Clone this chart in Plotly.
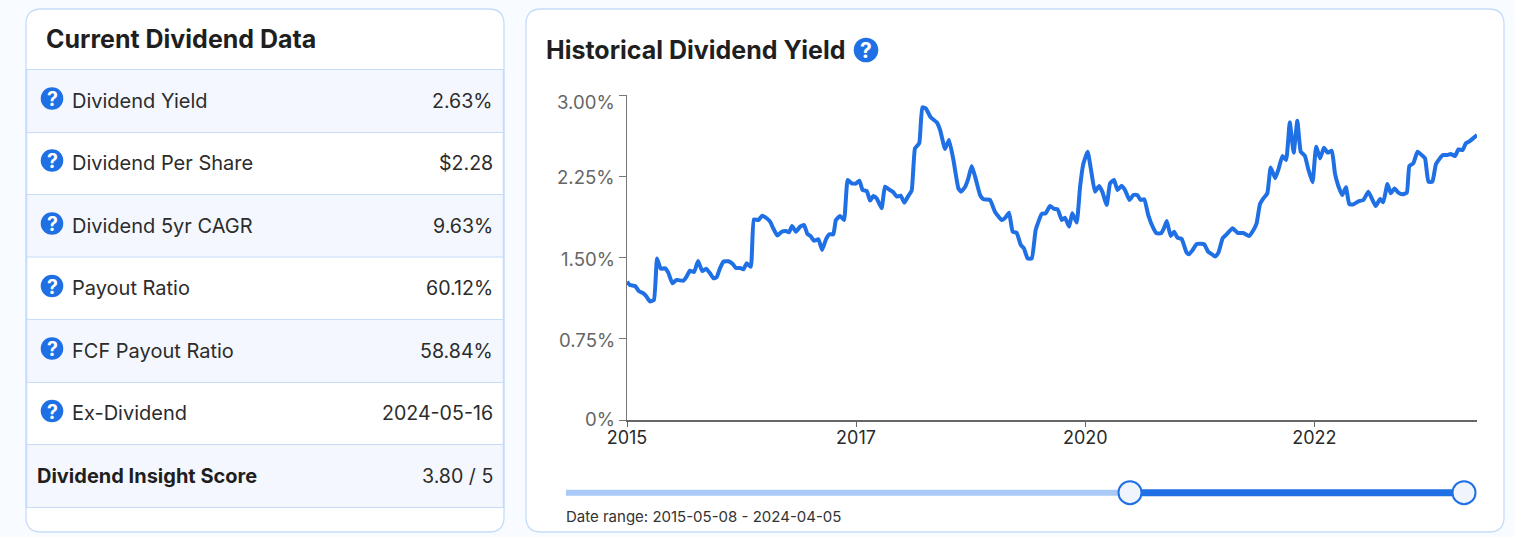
import pandas as pd
import plotly.graph_objects as go

W, H = 1515, 537
START = "2015-05-08"
END = "2024-04-05"

days_since_start = [0,11,31,46,63,75,88,103,115,129,146,158,174,190,216,228,241,257,272,288,303,318,331,343,356,369,388,405,417,433,446,458,474,486,503,518,535,548,560,576,592,609,620,632,647,663,678,691,703,716,733,747,762,775,790,800,816,831,845,860,876,890,902,918,
931,943,956,975,988,1007,1020,1033,1048,1062,1077,1090,1103,1119,1131,1144,1163,1186,1199,1218,1233,1250,1269,1279,1294,1307,1320,1333,1352,1365,1390,1409,1435,1450,1463,1477,1492,1508,1520,1534,1550,1565,1588,1603,1620,1636,1649,1665,1677,1693,1705,1722,1735,1748,1764,1777,1792,1808,1820,1837,1850,1865,1878,1894,1907,1924,1939,1954,1967,1981,1996,2016,2028,2045,2056,2067,2082,2095,2108,2124,2143,
2152,2166,2182,2210,2225,2239,2252,2265,2281,2296,2319,2339,2360,2382,2399,2411,2424,2437,2452,2465,2482,2494,2510,2524,2538,2553,2567,2580,2596,2609,2625,2639,2654,2669,2683,2699,2711,2724,2739,2753,2766,2782,2801,2820,2839,2852,2867,2884,2896,2912,2925,2939,2954,2969,2986,2996,3011,3027,3043,3056,3069,3084,3098,3124,3141,3154,3171,3184,3200,3212,3226,3255]

yield_pct = [1.277,1.246,1.237,1.188,1.169,1.138,1.095,1.108,1.492,1.397,1.400,1.360,1.262,1.292,1.286,1.323,1.378,1.366,1.468,1.375,1.397,1.354,1.308,1.317,1.400,1.461,1.465,1.440,1.403,1.403,1.391,1.446,1.415,1.852,1.846,1.886,1.862,1.831,1.769,1.702,1.738,1.745,1.732,1.791,1.738,1.785,1.800,1.717,1.698,1.655,1.668,1.569,1.668,1.714,1.714,1.846,1.883,1.846,2.215,2.185,2.182,2.209,2.123,2.114,
2.025,2.068,2.046,1.954,2.154,2.123,2.102,2.062,2.071,2.006,2.068,2.117,2.508,2.554,2.886,2.877,2.794,2.748,2.677,2.502,2.585,2.400,2.138,2.108,2.148,2.231,2.345,2.246,2.077,2.037,2.031,1.923,1.846,1.871,1.914,1.738,1.729,1.615,1.585,1.492,1.492,1.754,1.902,1.908,1.975,1.948,1.945,1.846,1.868,1.785,1.908,1.822,2.154,2.369,2.477,2.308,2.108,2.160,2.108,1.985,2.185,2.215,2.123,2.163,2.123,2.031,2.077,2.077,2.031,2.037,1.892,1.769,1.723,1.723,1.769,1.837,1.698,1.738,1.683,1.671,1.545,
1.529,1.569,1.625,1.622,1.554,1.532,1.508,1.545,1.677,1.714,1.769,1.726,1.726,1.698,1.754,1.815,1.994,2.046,2.092,2.332,2.231,2.308,2.437,2.400,2.748,2.468,2.763,2.477,2.437,2.314,2.194,2.523,2.415,2.514,2.468,2.486,2.277,2.160,2.077,2.148,1.991,1.991,2.018,2.031,2.108,2.046,1.975,2.040,2.009,2.178,2.092,2.138,2.098,2.083,2.098,2.345,2.369,2.477,2.446,2.415,2.200,2.200,2.363,2.446,2.446,2.455,2.437,2.498,2.492,2.554,2.572,2.630]

x_tick_dates = ["2015-05-08", "2017-10-01", "2020-02-26", "2022-07-22"]
x_tick_labels = ["2015", "2017", "2020", "2022"]
y_tick_values = [0, 0.75, 1.5, 2.25, 3]
y_tick_labels = ["0%", "0.75%", "1.50%", "2.25%", "3.00%"]

row_labels = ["Dividend Yield", "Dividend Per Share", "Dividend 5yr CAGR", "Payout Ratio",
              "FCF Payout Ratio", "Ex-Dividend", "Dividend Insight Score"]
row_values = ["2.63%", "$2.28", "9.63%", "60.12%", "58.84%", "2024-05-16", "3.80 / 5"]

BLUE = "#1f6fe5"
BORDER = "#c6dcf8"
INK = "#212121"
FONT = "Inter"


def fx(px):
    return px / W


def fy(py):
    return (H - py) / H


def card(x0, y0, x1, y1, r=15):
    p = (f"M {fx(x0 + r)} {fy(y0)} L {fx(x1 - r)} {fy(y0)} "
         f"Q {fx(x1)} {fy(y0)} {fx(x1)} {fy(y0 + r)} L {fx(x1)} {fy(y1 - r)} "
         f"Q {fx(x1)} {fy(y1)} {fx(x1 - r)} {fy(y1)} L {fx(x0 + r)} {fy(y1)} "
         f"Q {fx(x0)} {fy(y1)} {fx(x0)} {fy(y1 - r)} L {fx(x0)} {fy(y0 + r)} "
         f"Q {fx(x0)} {fy(y0)} {fx(x0 + r)} {fy(y0)} Z")
    return dict(type="path", xref="paper", yref="paper", path=p, fillcolor="white",
                line=dict(color=BORDER, width=1.3), layer="below")


def rect(x0, y0, x1, y1, fill, line=None, width=0, layer="below"):
    return dict(type="rect", xref="paper", yref="paper", x0=fx(x0), x1=fx(x1), y0=fy(y0), y1=fy(y1),
                fillcolor=fill, line=dict(color=line or fill, width=width), layer=layer)


def circle(cx, cy, r, fill, line=None, width=0):
    return dict(type="circle", xref="paper", yref="paper", x0=fx(cx - r), x1=fx(cx + r),
                y0=fy(cy + r), y1=fy(cy - r), fillcolor=fill,
                line=dict(color=line or fill, width=width), layer="above")


def text(px, py, s, size, color=INK, anchor="left", bold=False):
    return dict(xref="paper", yref="paper", x=fx(px), y=fy(py), text=f"<b>{s}</b>" if bold else s,
                showarrow=False, xanchor=anchor, yanchor="middle", xshift=0,
                font=dict(family=FONT, size=size, color=color), borderpad=0, borderwidth=0)


shapes = [card(26, 9, 504, 532), card(526, 9, 1504, 532)]
annotations = [text(46, 39.5, "Current Dividend Data", 25, "#1f1f1f", bold=True),
               text(546, 49.5, "Historical Dividend Yield", 25, "#1f1f1f", bold=True)]

edges = [69.5, 132.5, 194.5, 257, 319.5, 382.5, 444.5, 507.5]
centers = [100.8, 163, 226, 288, 350.5, 413, 476]
icons = [98.5, 160.5, 223.5, 286, 348.5, 411]

for i in range(7):
    if i % 2 == 0:
        shapes.append(rect(26.5, edges[i], 503.5, edges[i + 1], "#f4f8fe"))
for e in edges:
    shapes.append(dict(type="line", xref="paper", yref="paper", x0=fx(26), x1=fx(504), y0=fy(e), y1=fy(e),
                       line=dict(color=BORDER, width=1.2), layer="below"))
for xe in (26.5, 503.5):
    shapes.append(dict(type="line", xref="paper", yref="paper", x0=fx(xe), x1=fx(xe), y0=fy(69.5), y1=fy(507.5),
                       line=dict(color=BORDER, width=1.6), layer="below"))

for i, (lab, val) in enumerate(zip(row_labels, row_values)):
    if i < 6:
        shapes.append(circle(52, icons[i], 11.3, BLUE))
        annotations.append(text(52, icons[i] + 0.5, "?", 19.5, "white", "center", True))
        annotations.append(text(72, centers[i], lab, 20, "#2c2c2c"))
    else:
        annotations.append(text(37, centers[i], lab, 20, "#1f1f1f", bold=True))
    annotations.append(text(492.5, centers[i], val, 19.6, "#2c2c2c", "right"))

shapes.append(circle(866, 50, 12.3, BLUE))
annotations.append(text(866, 50.5, "?", 21, "white", "center", True))

# value-axis labels: the top one sits lower than its tick in the reference
for val, lab in zip(y_tick_values, y_tick_labels):
    annotations.append(dict(xref="paper", yref="y", x=fx(617), y=val, text=lab, showarrow=False,
                            xanchor="right", yanchor="middle", yshift=-7 if val == 3 else (1 if val == 0 else -1),
                            font=dict(family=FONT, size=18.6, color="#666666")))

# range slider look-alike
shapes.append(dict(type="line", xref="paper", yref="paper", x0=fx(566), x1=fx(1130), y0=fy(492.7), y1=fy(492.7),
                   line=dict(color="#a9c9f6", width=6)))
shapes.append(dict(type="line", xref="paper", yref="paper", x0=fx(1130), x1=fx(1464), y0=fy(492.7), y1=fy(492.7),
                   line=dict(color=BLUE, width=7)))
shapes.append(circle(1130, 492.7, 11.5, "#f0f5fd", BLUE, 2))
shapes.append(circle(1464, 492.7, 11.5, "#f0f5fd", BLUE, 2))
annotations.append(text(566, 516, "Date range: " + START + " - " + END, 15, "#333333"))

dates = pd.Timestamp(START) + pd.to_timedelta(days_since_start, unit="D")

fig = go.Figure(go.Scatter(x=dates, y=yield_pct, mode="lines",
                           line=dict(color=BLUE, width=4, shape="spline", smoothing=0.4),
                           hoverinfo="skip", cliponaxis=False))
fig.update_layout(
    width=W, height=H, autosize=False, showlegend=False,
    margin=dict(l=0, r=0, t=0, b=0, pad=0, autoexpand=False),
    paper_bgcolor="#f8fbff", plot_bgcolor="rgba(0,0,0,0)",
    shapes=shapes, annotations=annotations,
    font=dict(family=FONT),
    xaxis=dict(type="date", domain=[fx(627), fx(1477)], range=[START, END], automargin=False,
               tickmode="array", tickvals=x_tick_dates, ticktext=x_tick_labels,
               ticks="outside", ticklen=5, tickcolor="#666666", tickwidth=1,
               tickfont=dict(family=FONT, size=18, color="#2a2a2a"), ticklabelstandoff=-4,
               showgrid=False, zeroline=False, showline=True, linecolor="#666666", linewidth=1.6),
    yaxis=dict(domain=[fy(420), fy(95)], range=[0, 3], automargin=False,
               tickmode="array", tickvals=y_tick_values, ticktext=y_tick_labels, showticklabels=False,
               ticks="outside", ticklen=7, tickcolor="#777777", tickwidth=1,
               showgrid=False, zeroline=False, showline=True, linecolor="#777777", linewidth=1.3),
)
fig.write_html("out.html", post_script="document.body.style.margin='0';document.body.style.overflow='hidden';",
               config=dict(displayModeBar=False))
